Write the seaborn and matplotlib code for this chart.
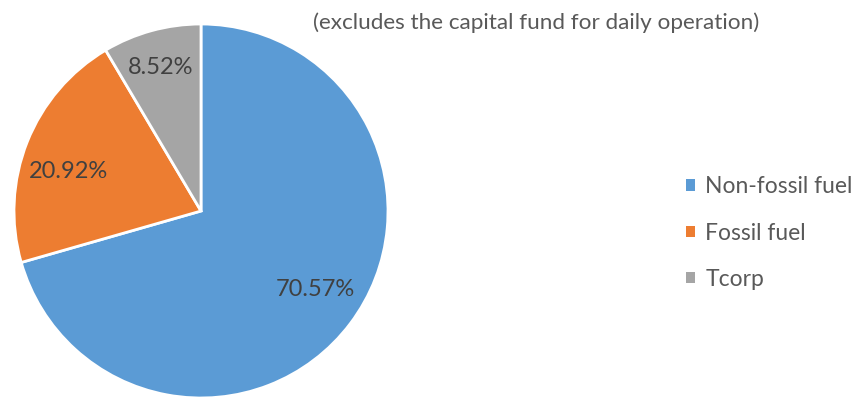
import numpy as np
import matplotlib
matplotlib.use("Agg")
import matplotlib.pyplot as plt
from matplotlib.patches import Patch
import seaborn as sns

categories = ["Non-fossil fuel", "Fossil fuel", "Tcorp"]
shares = [70.57, 20.92, 8.52]
colors = ["#5B9BD5", "#ED7D31", "#A5A5A5"]
note = "(excludes the capital fund for daily operation)"

sns.set_style("white")
plt.rcParams["font.family"] = ["Lato", "DejaVu Sans"]

fig = plt.figure(figsize=(8.62, 3.98), dpi=100)
# pie centred near the left, slightly cut at the bottom edge
cx, cy, r = 201, 211, 187
ax = fig.add_axes([(cx - r) / 862, (398 - cy - r) / 398, 2 * r / 862, 2 * r / 398])
wedges, _ = ax.pie(
    shares,
    colors=colors,
    startangle=90,
    counterclock=False,
    radius=1.0,
    wedgeprops=dict(edgecolor="white", linewidth=2),
)
ax.set_xlim(-1, 1)
ax.set_ylim(-1, 1)
ax.set_aspect("auto")
ax.axis("off")

# percentage labels placed inside each wedge
dists = [0.74, 0.74, 0.80]
offsets = [2.5, 5.0, 0.5]
start = 90.0
for val, d, off in zip(shares, dists, offsets):
    span = val / sum(shares) * 360.0
    mid = np.deg2rad(start - span / 2 + off)
    ax.text(d * np.cos(mid), d * np.sin(mid), f"{val:.2f}%",
            ha="center", va="center", fontsize=17, color="#404040")
    start -= span

fig.text(536.5 / 862, 1 - 23 / 398, note, ha="center", va="center",
         fontsize=16.2, color="#595959")

handles = [Patch(facecolor=c, edgecolor="none") for c in colors]
fig.legend(handles, categories, loc="center left",
           bbox_to_anchor=(686 / 862, 1 - 233 / 398),
           frameon=False, fontsize=16.5, labelcolor="#595959",
           handlelength=0.4, handleheight=0.4, handletextpad=0.45,
           labelspacing=1.1, borderpad=0, borderaxespad=0)

fig.savefig("out.png", dpi=100, facecolor="white")
